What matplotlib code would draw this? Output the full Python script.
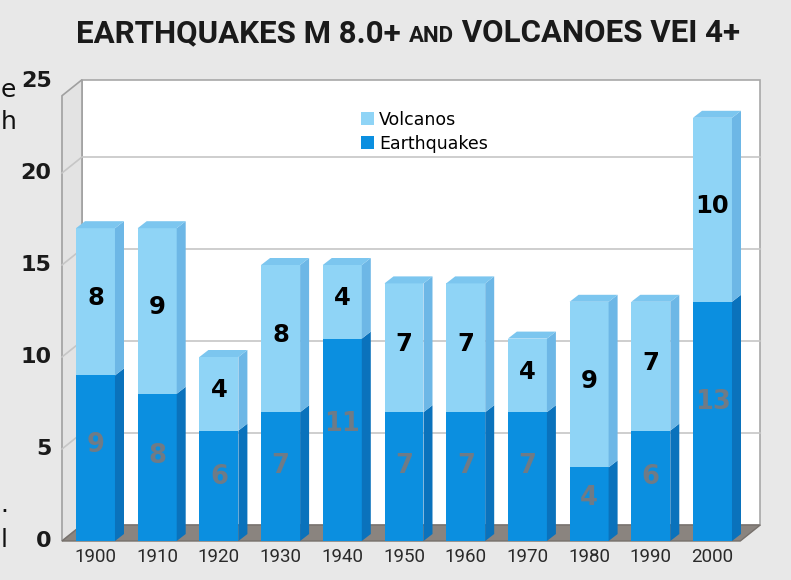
import matplotlib
matplotlib.use("Agg")
import matplotlib.pyplot as plt
from matplotlib.patches import Polygon, Patch
from matplotlib.offsetbox import TextArea, HPacker, AnchoredOffsetbox

# data
decades = ["1900", "1910", "1920", "1930", "1940", "1950", "1960", "1970", "1980", "1990", "2000"]
earthquakes = [9, 8, 6, 7, 11, 7, 7, 7, 4, 6, 13]
volcanos = [8, 9, 4, 8, 4, 7, 7, 4, 9, 7, 10]
yticks = [0, 5, 10, 15, 20, 25]

bg = "#e8e8e8"
eq_front, eq_side = "#0b8fe0", "#0a72bc"
vo_front, vo_side, vo_top = "#8fd4f6", "#6db7e6", "#7cc6ef"

W, H = 791, 580
fig = plt.figure(figsize=(W / 100, H / 100), dpi=100, facecolor=bg)
ax = fig.add_axes([0, 0, 1, 1])
ax.set_facecolor(bg)
ax.axis("off")

# pixel mapping used to set limits: x px = 95.5 + 61.7*i ; y px(top) = 541 - 18.4*v
ax.set_xlim((0 - 95.5) / 61.7, (W - 95.5) / 61.7)
ax.set_ylim((541 - H) / 18.4, 541 / 18.4)

x = list(range(len(decades)))
bw = 0.632
wdx, wdy = 20 / 61.7, 16 / 18.4     # wall depth
bdx, bdy = 9 / 61.7, 7 / 18.4       # bar depth
xl = -0.543                          # front left edge
xr = 10.45                           # front right edge
top = 24.2

# walls and floor
ax.add_patch(Polygon([(xl + wdx, wdy), (xr + wdx, wdy), (xr + wdx, top + wdy), (xl + wdx, top + wdy)],
                     closed=True, facecolor="white", edgecolor="#a8a8a8", lw=1.2, zorder=1))
ax.add_patch(Polygon([(xl, 0), (xl + wdx, wdy), (xl + wdx, top + wdy), (xl, top)],
                     closed=True, facecolor="#e3e3e3", edgecolor="#a0a0a0", lw=1.2, zorder=1))
ax.add_patch(Polygon([(xl, 0), (xl + wdx, wdy), (xr + wdx, wdy), (xr, 0)],
                     closed=True, facecolor="#8a847f", edgecolor="#77716c", lw=1, zorder=1))
for t in yticks[1:-1]:
    ax.plot([xl, xl + wdx, xr + wdx], [t, t + wdy, t + wdy], color="#c6c6c6", lw=1.2, zorder=1.5)

# stacked bars
ax.bar(x, earthquakes, width=bw, color=eq_front, zorder=3)
ax.bar(x, volcanos, bottom=earthquakes, width=bw, color=vo_front, zorder=3)
for i in x:
    r = i + bw / 2
    l = i - bw / 2
    e = earthquakes[i]
    t = e + volcanos[i]
    ax.add_patch(Polygon([(r, 0), (r + bdx, bdy), (r + bdx, e + bdy), (r, e)],
                         closed=True, facecolor=eq_side, lw=0, zorder=3))
    ax.add_patch(Polygon([(r, e), (r + bdx, e + bdy), (r + bdx, t + bdy), (r, t)],
                         closed=True, facecolor=vo_side, lw=0, zorder=3))
    ax.add_patch(Polygon([(l, t), (l + bdx, t + bdy), (r + bdx, t + bdy), (r, t)],
                         closed=True, facecolor=vo_top, lw=0, zorder=3))
    ax.text(i, e * 0.58, str(e), ha="center", va="center", fontsize=18.5,
            fontweight="bold", color="#6f7b86", zorder=4, family="DejaVu Sans")
    ax.text(i, e + volcanos[i] / 2 + 0.2, str(volcanos[i]), ha="center", va="center",
            fontsize=17.5, fontweight="bold", color="black", zorder=4, family="DejaVu Sans")
    ax.text(i, -0.85, decades[i], ha="center", va="center", fontsize=13.5,
            color="#2a2a2a", family="Roboto")

# y axis labels
for t in yticks:
    ax.text(xl - 0.17, t, str(t), ha="right", va="center", fontsize=16,
            fontweight="bold", color="#1a1a1a", family="DejaVu Sans")

# legend
handles = [Patch(facecolor=vo_front, label="Volcanos"),
           Patch(facecolor=eq_front, label="Earthquakes")]
ax.legend(handles=handles, loc="upper left", bbox_to_anchor=(352 / W, 1 - 102 / H),
          frameon=False, handlelength=0.75, handleheight=0.75,
          handletextpad=0.3, labelspacing=0.35, borderpad=0,
          prop={"family": "DejaVu Sans", "size": 12.5})

# title with small-caps "AND"
tkw = dict(family="Roboto", fontweight="bold", color="#1a1a1a")
parts = [TextArea("EARTHQUAKES M 8.0+ ", textprops=dict(size=22.5, **tkw)),
         TextArea("AND", textprops=dict(size=16, **tkw)),
         TextArea(" VOLCANOES VEI 4+", textprops=dict(size=22.5, **tkw))]
box = HPacker(children=parts, align="baseline", pad=0, sep=0)
ab = AnchoredOffsetbox(loc="center", child=box, frameon=False,
                       bbox_to_anchor=(408 / W, 1 - 33 / H), bbox_transform=fig.transFigure)
fig.add_artist(ab)

# fragments of page text at the left edge
for ch, py in [("e", 90), ("h", 122), (".", 505), ("l", 540)]:
    fig.text(0.001, 1 - py / H, ch, ha="left", va="center", fontsize=18, color="#111111")

fig.savefig("out.png", dpi=100, facecolor=bg)
